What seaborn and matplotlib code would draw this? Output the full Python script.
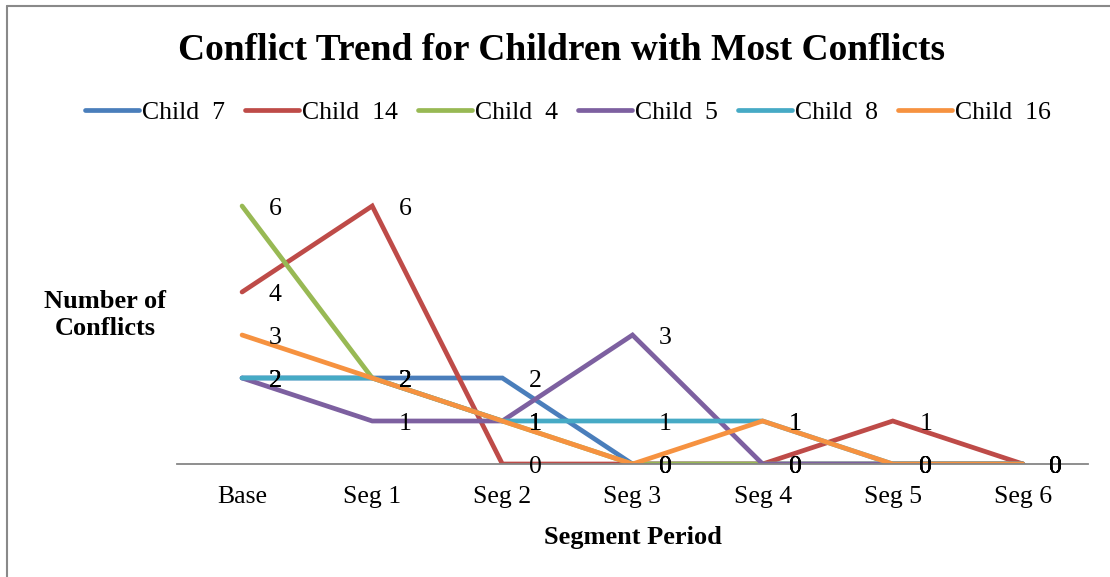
import pandas as pd
import matplotlib.pyplot as plt
import seaborn as sns
from matplotlib.lines import Line2D

# data
segments = ["Base", "Seg 1", "Seg 2", "Seg 3", "Seg 4", "Seg 5", "Seg 6"]
children = ["Child  7", "Child  14", "Child  4", "Child  5", "Child  8", "Child  16"]
child_7 = [2, 2, 2, 0, 0, 0, 0]
child_14 = [4, 6, 0, 0, 0, 1, 0]
child_4 = [6, 2, 1, 0, 0, 0, 0]
child_5 = [2, 1, 1, 3, 0, 0, 0]
child_8 = [2, 2, 1, 1, 1, 0, 0]
child_16 = [3, 2, 1, 0, 1, 0, 0]
colors = ["#4A7EBB", "#BE4B48", "#98B954", "#7D60A0", "#46AAC5", "#F69240"]

series = [child_7, child_14, child_4, child_5, child_8, child_16]
rows = []
for name, vals in zip(children, series):
    for i, v in enumerate(vals):
        rows.append({"pos": i, "Segment": segments[i], "Child": name, "Conflicts": v})
df = pd.DataFrame(rows)

sns.set_style("white")
plt.rcParams["font.family"] = ["Liberation Serif", "DejaVu Serif"]
plt.rcParams["text.color"] = "black"
plt.rcParams["axes.labelcolor"] = "black"
plt.rcParams["xtick.color"] = "black"

fig = plt.figure(figsize=(11.1, 5.77), dpi=100)
ax = fig.add_axes([177 / 1110, 1 - 464 / 577, (1088 - 177) / 1110, (464 - 163) / 577])

sns.lineplot(data=df, x="pos", y="Conflicts", hue="Child", hue_order=children,
             palette=colors, linewidth=3.4, ax=ax, legend=False, sort=False)
for ln in ax.get_lines():
    ln.set_solid_capstyle("round")
    ln.set_solid_joinstyle("miter")

# data labels to the right of each point
for name, vals in zip(children, series):
    for i, v in enumerate(vals):
        ax.annotate(str(v), (i, v), xytext=(19, -2), textcoords="offset points",
                    ha="left", va="center", fontsize=18.5, color="black")

ax.set_xlim(-0.5, 6.5)
ax.set_ylim(0, 7)
ax.set_xticks(range(len(segments)))
ax.set_xticklabels(segments, fontsize=18.5)
ax.set_yticks([])
ax.tick_params(axis="x", length=0, pad=16)
for s in ["top", "right", "left"]:
    ax.spines[s].set_visible(False)
ax.spines["bottom"].set_color("#868686")
ax.spines["bottom"].set_linewidth(1.3)
ax.set_xlabel("Segment Period", fontsize=19, fontweight="bold", labelpad=13)
ax.set_ylabel("")

fig.text(105 / 1110, 1 - 315 / 577, "Number of\nConflicts", ha="center", va="center",
         fontsize=19, fontweight="bold", linespacing=1.25)
fig.text(562 / 1110, 1 - 50 / 577, "Conflict Trend for Children with Most Conflicts",
         ha="center", va="center", fontsize=27, fontweight="bold")

handles = [Line2D([0], [0], color=c, lw=3.4, solid_capstyle="round") for c in colors]
fig.legend(handles, children, loc="center", bbox_to_anchor=(568 / 1110, 1 - 113 / 577),
           ncol=6, frameon=False, fontsize=18.5, handlelength=2.1, handletextpad=0.1,
           columnspacing=0.8)

# chart frame (top and left edges visible)
fig.add_artist(Line2D([7 / 1110, 1], [1 - 6 / 577, 1 - 6 / 577], color="#898989", lw=1.5))
fig.add_artist(Line2D([7 / 1110, 7 / 1110], [0, 1 - 6 / 577], color="#898989", lw=1.5))

plt.savefig("out.png", dpi=100)
